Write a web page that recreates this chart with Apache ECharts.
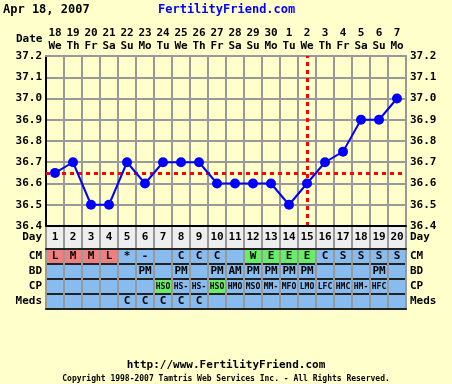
<!DOCTYPE html>
<html><head><meta charset="utf-8">
<script src="https://cdn.jsdelivr.net/npm/echarts@6/dist/echarts.min.js"></script>
<style>html,body{margin:0;padding:0;background:#FFFFCC;}#c{width:452px;height:384px;}</style>
</head><body><div id="c"></div>
<script>
const dayNumbers = ['1','2','3','4','5','6','7','8','9','10','11','12','13','14','15','16','17','18','19','20'];
const dateNums = ['18','19','20','21','22','23','24','25','26','27','28','29','30','1','2','3','4','5','6','7'];
const dateDays = ['We','Th','Fr','Sa','Su','Mo','Tu','We','Th','Fr','Sa','Su','Mo','Tu','We','Th','Fr','Sa','Su','Mo'];
const temps = [36.65,36.7,36.5,36.5,36.7,36.6,36.7,36.7,36.7,36.6,36.6,36.6,36.6,36.5,36.6,36.7,36.75,36.9,36.9,37.0];
const coverline = 36.65;
const ovulationDay = 15;
const rowNames = ['CM','BD','CP','Meds'];
const cmText = ['L','M','M','L','*','-','','C','C','C','','W','E','E','E','C','S','S','S','S'];
const bdText = ['','','','','','PM','','PM','','PM','AM','PM','PM','PM','PM','','','','PM',''];
const cpText = ['','','','','','','HSO','HS-','HS-','HSO','HMO','MSO','MM-','MFO','LMO','LFC','HMC','HM-','HFC',''];
const medsText = ['','','','','C','C','C','C','C','','','','','','','','','','',''];
const cmMenstrualDays = [1,2,3,4];
const cmFertileDays = [12,13,14,15];
const cpFertileDays = [7,10];

const FONT = 'DejaVu Sans Mono';
const BLUE_CELL = '#88BBEE', RED_CELL = '#F08080', GREEN_CELL = '#66EE66', GREY_CELL = '#EEEEEE';

const rowsText = [cmText, bdText, cpText, medsText];
const tableData = [];
rowsText.forEach((arr, r) => {
  arr.forEach((t, i) => {
    const day = i + 1;
    let color = BLUE_CELL;
    if (r === 0 && cmMenstrualDays.includes(day)) color = RED_CELL;
    if (r === 0 && cmFertileDays.includes(day)) color = GREEN_CELL;
    if (r === 2 && cpFertileDays.includes(day)) color = GREEN_CELL;
    tableData.push({
      value: [i, r, 1],
      txt: t,
      itemStyle: { color: color },
      label: { fontSize: r === 2 ? 8 : 11 }
    });
  });
});
const dayRowData = dayNumbers.map((d, i) => ({ value: [i, 0, 1], txt: d, itemStyle: { color: GREY_CELL } }));

const chart = echarts.init(document.getElementById('c'));
const axLabel = { fontFamily: FONT, fontWeight: 'bold', fontSize: 11, color: '#000' };
chart.setOption({
  animation: false,
  backgroundColor: '#FFFFCC',
  textStyle: { fontFamily: FONT },
  title: [
    { text: 'Apr 18, 2007', left: 3, top: 4, padding: 0, textStyle: { fontFamily: FONT, fontWeight: 'bold', fontSize: 12, color: '#000' } },
    { text: 'FertilityFriend.com', left: 158, top: 4, padding: 0, textStyle: { fontFamily: FONT, fontWeight: 'bold', fontSize: 12, color: '#0000FF' } },
    { text: 'http://www.FertilityFriend.com', left: 'center', top: 360, padding: 0, textStyle: { fontFamily: FONT, fontWeight: 'bold', fontSize: 11, color: '#000' } },
    { text: 'Copyright 1998-2007 Tamtris Web Services Inc. - All Rights Reserved.', left: 'center', top: 375, padding: 0, textStyle: { fontFamily: FONT, fontSize: 8, color: '#000' } },
    { text: 'Date', left: 16, top: 34, padding: 0, textStyle: { fontFamily: FONT, fontWeight: 'bold', fontSize: 11, color: '#000' } }
  ],
  grid: [
    { left: 46, top: 56, width: 360, height: 170 },
    { left: 46, top: 226, width: 360, height: 23 },
    { left: 46, top: 249, width: 360, height: 60 }
  ],
  xAxis: [
    { type: 'category', gridIndex: 0, position: 'top', data: dayNumbers,
      axisLine: { show: true, lineStyle: { color: '#999', width: 2 } }, axisTick: { show: false },
      axisLabel: Object.assign({}, axLabel, { margin: 3, lineHeight: 13, interval: 0,
        formatter: (v, i) => dateNums[i] + '\n' + dateDays[i] }),
      splitLine: { show: true, interval: 0, lineStyle: { color: '#999', width: 2 } } },
    { type: 'category', gridIndex: 1, position: 'top', data: dayNumbers, z: 10,
      axisLine: { show: true, lineStyle: { color: '#000', width: 2 } }, axisTick: { show: false }, axisLabel: { show: false },
      splitLine: { show: true, interval: 0, lineStyle: { color: '#999', width: 2 } } },
    { type: 'category', gridIndex: 2, position: 'top', data: dayNumbers, z: 10,
      axisLine: { show: true, lineStyle: { color: '#222', width: 2 } }, axisTick: { show: false }, axisLabel: { show: false },
      splitLine: { show: true, interval: 0, lineStyle: { color: '#999', width: 2 } } },
    { type: 'category', gridIndex: 2, position: 'bottom', data: dayNumbers, z: 10,
      axisLine: { show: true, lineStyle: { color: '#222', width: 2 } }, axisTick: { show: false }, axisLabel: { show: false },
      splitLine: { show: false } }
  ],
  yAxis: [
    { type: 'value', gridIndex: 0, position: 'left', min: 36.4, max: 37.2, interval: 0.1,
      axisLine: { show: true, lineStyle: { color: '#000', width: 2 } }, axisTick: { show: false },
      axisLabel: Object.assign({}, axLabel, { margin: 4, formatter: v => v.toFixed(1) }),
      splitLine: { show: true, lineStyle: { color: '#999', width: 2 } } },
    { type: 'value', gridIndex: 0, position: 'right', min: 36.4, max: 37.2, interval: 0.1,
      axisLine: { show: true, lineStyle: { color: '#999', width: 2 } }, axisTick: { show: false },
      axisLabel: Object.assign({}, axLabel, { margin: 4, formatter: v => v.toFixed(1) }),
      splitLine: { show: false } },
    { type: 'category', gridIndex: 1, position: 'left', data: ['Day'], z: 10,
      axisLine: { show: false }, axisTick: { show: false }, axisLabel: Object.assign({}, axLabel, { margin: 4, interval: 0 }) },
    { type: 'category', gridIndex: 1, position: 'right', data: ['Day'], z: 10,
      axisLine: { show: true, lineStyle: { color: '#999', width: 2 } }, axisTick: { show: false }, axisLabel: Object.assign({}, axLabel, { margin: 4, interval: 0 }) },
    { type: 'category', gridIndex: 2, position: 'left', data: rowNames, inverse: true, z: 10,
      axisLine: { show: true, lineStyle: { color: '#999', width: 2 } }, axisTick: { show: false }, axisLabel: Object.assign({}, axLabel, { margin: 4, interval: 0 }),
      splitLine: { show: true, interval: 0, lineStyle: { color: '#222', width: 2 } } },
    { type: 'category', gridIndex: 2, position: 'right', data: rowNames, inverse: true, z: 10,
      axisLine: { show: true, lineStyle: { color: '#999', width: 2 } }, axisTick: { show: false }, axisLabel: Object.assign({}, axLabel, { margin: 4, interval: 0 }) }
  ],
  series: [
    { type: 'heatmap', xAxisIndex: 1, yAxisIndex: 2, data: dayRowData, z: 2,
      label: { show: true, fontFamily: FONT, fontWeight: 'bold', fontSize: 11, color: '#000', formatter: p => p.data.txt } },
    { type: 'heatmap', xAxisIndex: 2, yAxisIndex: 4, data: tableData, z: 2,
      label: { show: true, fontFamily: FONT, fontWeight: 'bold', fontSize: 11, color: '#000', formatter: p => p.data.txt } },
    { type: 'line', xAxisIndex: 0, yAxisIndex: 0, data: temps, z: 5,
      symbol: 'circle', symbolSize: 10, color: '#0000FF',
      lineStyle: { color: '#0000FF', width: 2 }, itemStyle: { color: '#0000FF' },
      markLine: { silent: true, symbol: 'none', label: { show: false }, z: 4,
        lineStyle: { color: '#FF0000', width: 3, type: [4, 4] },
        data: [ { yAxis: coverline }, { xAxis: ovulationDay - 1 } ] } }
  ]
});
</script></body></html>
